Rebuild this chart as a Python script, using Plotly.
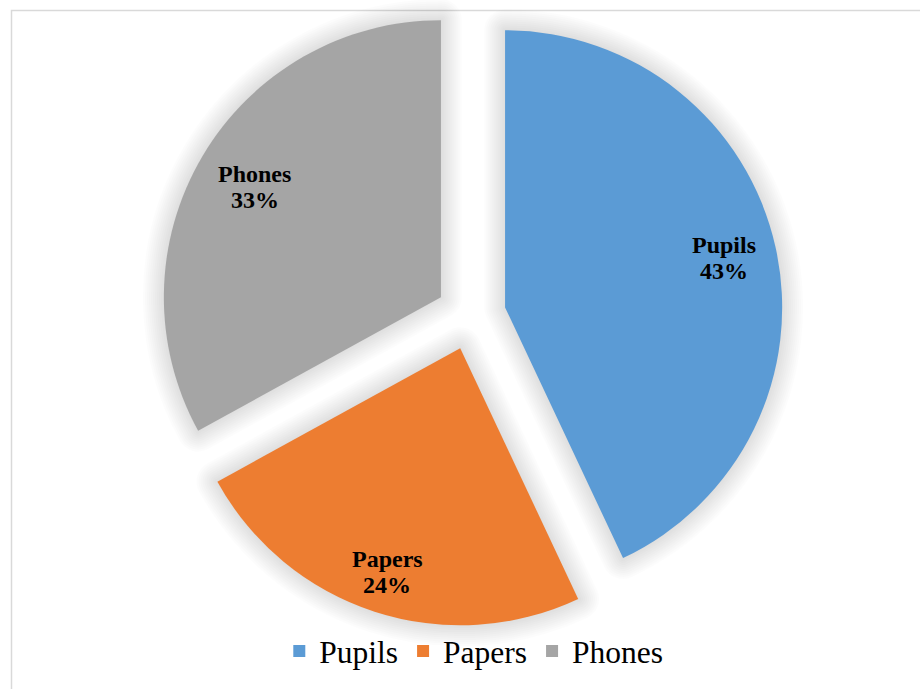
import numpy as np
import plotly.graph_objects as go

# Share of items by category
categories = ["Pupils", "Papers", "Phones"]
shares = [43, 24, 33]
colors = ["#5b9bd5", "#ed7d31", "#a5a5a5"]

W, H = 920, 689
FONT = "Liberation Serif, Times New Roman, serif"
PULL = 0.126

# Pie box in pixels (square) -> domain in paper units
cx_px, cy_px, half = 471, 315, 312
dom_x = [(cx_px - half) / W, (cx_px + half) / W]
dom_y = [(H - cy_px - half) / H, (H - cy_px + half) / H]
radius = (2 * half) / (2 * (1 + PULL))

fig = go.Figure()

# Soft outer shadow: stacked translucent strokes around each slice
for width in range(42, 1, -4):
    fig.add_trace(go.Pie(
        labels=categories, values=shares, sort=False, direction="clockwise",
        rotation=0, pull=[PULL] * len(shares),
        marker=dict(colors=["rgba(0,0,0,0)"] * len(shares),
                    line=dict(color="rgba(0,0,0,0.012)", width=width)),
        textinfo="none", hoverinfo="skip", showlegend=False,
        domain=dict(x=dom_x, y=dom_y),
    ))

fig.add_trace(go.Pie(
    labels=categories, values=shares, sort=False, direction="clockwise",
    rotation=0, pull=[PULL] * len(shares),
    marker=dict(colors=colors, line=dict(width=0)),
    textinfo="none", hoverinfo="label+percent",
    domain=dict(x=dom_x, y=dom_y),
))

# Data labels placed along each slice's mid-angle (name above, percent below)
label_r = [0.81, 0.85, 0.78]
total = float(sum(shares))
cum = np.cumsum([0] + shares[:-1]) / total
mid = (cum + np.array(shares) / total / 2) * 2 * np.pi
for name, val, ang, k in zip(categories, shares, mid, label_r):
    dist = (PULL + k) * radius
    px = cx_px + dist * np.sin(ang)
    py = cy_px - dist * np.cos(ang)
    pct = round(100 * val / total)
    for txt, shift in ((name, 13), (f"{pct}%", -13)):
        fig.add_annotation(
            x=px / W, y=1 - py / H, xref="paper", yref="paper",
            text=f"<b>{txt}</b>", showarrow=False, yshift=shift,
            font=dict(family=FONT, size=24, color="#000000"),
            xanchor="center", yanchor="middle", align="center",
        )

# Chart-area frame
fig.add_shape(type="rect", xref="paper", yref="paper",
              x0=11.5 / W, y0=-0.1, x1=1.1, y1=1 - 10.5 / H,
              line=dict(color="#d9d9d9", width=1.5), fillcolor="rgba(0,0,0,0)",
              layer="below")

fig.update_layout(
    width=W, height=H,
    margin=dict(l=0, r=0, t=0, b=0),
    paper_bgcolor="white", plot_bgcolor="white",
    font=dict(family=FONT),
    showlegend=True,
    legend=dict(orientation="h", x=0.515, xanchor="center",
                y=1 - 651 / H, yanchor="middle",
                font=dict(family=FONT, size=31.5, color="#000000"),
                bgcolor="rgba(0,0,0,0)", itemclick=False, itemdoubleclick=False),
)

fig.write_html("out.html")
